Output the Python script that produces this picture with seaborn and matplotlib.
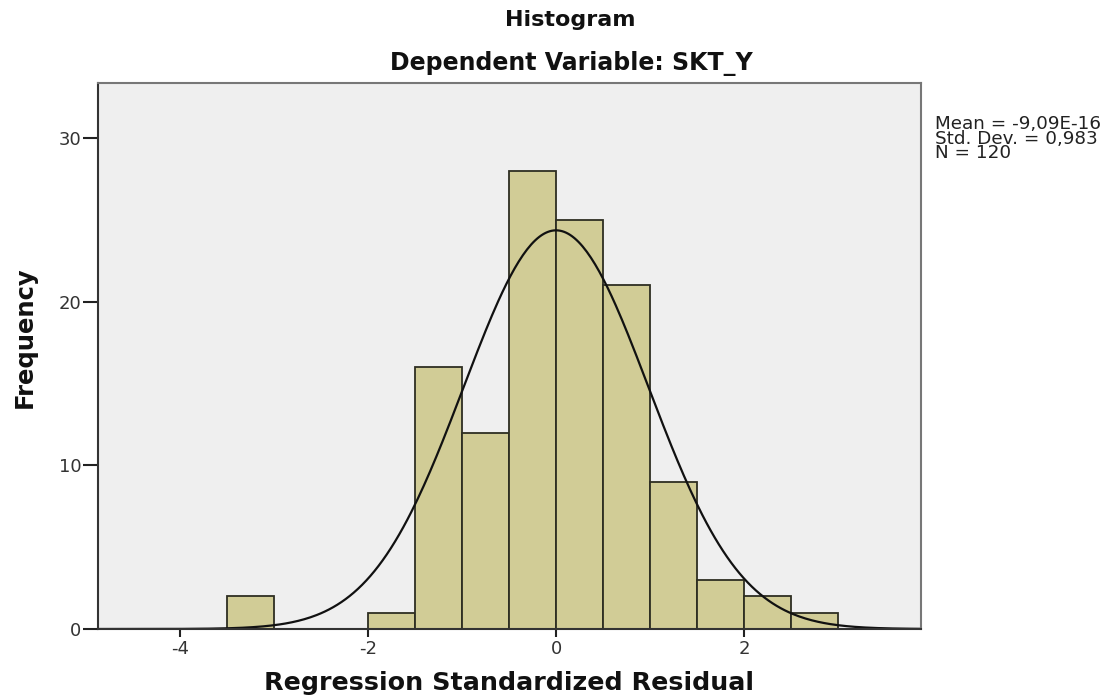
import seaborn as sns
import matplotlib.pyplot as plt
import pandas as pd
import numpy as np

# bin edges and counts
bin_edges = [-3.5, -3.0, -2.5, -2.0, -1.5, -1.0, -0.5, 0.0, 0.5, 1.0, 1.5, 2.0, 2.5, 3.0]
counts = [2, 0, 0, 1, 16, 12, 28, 25, 21, 9, 3, 2, 1]
mean_val = -9.09e-16
std_val = 0.983
n_obs = 120

centers = [(a + b) / 2 for a, b in zip(bin_edges[:-1], bin_edges[1:])]
df = pd.DataFrame({'Residual': centers, 'Count': counts})

sns.set_style('white')
plt.rcParams['font.family'] = ['DejaVu Sans']

fig = plt.figure(figsize=(11.18, 7), dpi=100)
ax = fig.add_axes([98 / 1118, 1 - 629 / 700, (921 - 98) / 1118, (629 - 83) / 700])
ax.set_facecolor('#EFEFEF')

sns.histplot(data=df, x='Residual', weights='Count', bins=bin_edges, ax=ax,
             color='#D1CC96', alpha=1, edgecolor='#2E2E22', linewidth=1.3)

# normal curve scaled to counts
bw = 0.5
xs = np.linspace(-4.87, 3.88, 400)
ys = n_obs * bw / (std_val * np.sqrt(2 * np.pi)) * np.exp(-0.5 * ((xs - mean_val) / std_val) ** 2)
sns.lineplot(x=xs, y=ys, ax=ax, color='#111111', linewidth=1.6)

ax.set_xlim(-4.87, 3.88)
ax.set_ylim(0, 33.35)
ax.set_xticks([-4, -2, 0, 2])
ax.set_xticklabels(['-4', '-2', '0', '2'])
ax.set_yticks([0, 10, 20, 30])
ax.tick_params(axis='y', direction='out', length=11, width=1.5, color='#222222',
               labelsize=13, labelcolor='#333333', pad=1, left=True)
ax.tick_params(axis='x', direction='out', length=6, width=1.5, color='#222222',
               labelsize=13, labelcolor='#333333', pad=2, bottom=True)

for side, sp in ax.spines.items():
    sp.set_visible(True)
    sp.set_linewidth(1.5)
    sp.set_color('#333333')
ax.spines['top'].set_color('#777777')
ax.spines['right'].set_color('#777777')

ax.set_xlabel('Regression Standardized Residual', fontsize=18.3, fontweight='bold', labelpad=9,
              color='#111111')
ax.set_ylabel('Frequency', fontsize=17.5, fontweight='bold', labelpad=20, color='#111111')
ax.yaxis.set_label_coords(-0.074, 0.535)

fig.text(0.51, 1 - 20 / 700, 'Histogram', ha='center', va='center', fontsize=16, fontweight='bold',
         color='#111111')
fig.text(0.511, 1 - 63 / 700, 'Dependent Variable: SKT_Y', ha='center', va='center',
         fontsize=17, fontweight='bold', color='#111111')

fig.text(935 / 1118, 1 - 115 / 700,
         'Mean = -9,09E-16\nStd. Dev. = 0,983\nN = 120',
         ha='left', va='top', fontsize=13.2, linespacing=0.76, color='#222222')

fig.savefig('out.png', dpi=100)
